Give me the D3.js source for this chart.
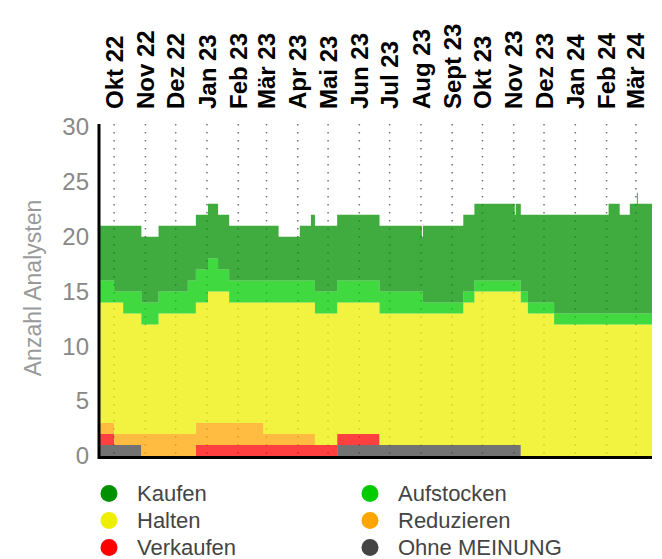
<!DOCTYPE html>
<html lang="de">
<head>
  <meta charset="UTF-8" />
  <title>Analystenmeinungen</title>
  <script src="https://unpkg.com/d3@7/dist/d3.min.js"></script>
  <style>
    body {
      margin: 0;
      background: #fff;
      font-family: "Liberation Sans", Arial, sans-serif;
    }
    svg { display: block; }
    .month-label { font-size: 24px; font-weight: bold; fill: #000; }
    .y-tick text { font-size: 24px; fill: #888; }
    .y-title { font-size: 23px; fill: #999; }
    .legend text { font-size: 22px; fill: #444; }
  </style>
</head>
<body>
  <svg id="chart" width="662" height="559"></svg>

  <script>
  // segment start dates (step after), values hold until next date
  const dates = [
    "2022-10-01", "2022-10-15", "2022-10-24", "2022-11-11", "2022-11-28",
    "2022-12-27", "2023-01-04", "2023-01-16", "2023-01-26", "2023-02-06",
    "2023-03-12", "2023-03-27", "2023-04-17", "2023-04-28", "2023-05-02",
    "2023-05-24", "2023-07-05", "2023-08-16", "2023-08-17", "2023-09-26",
    "2023-10-07", "2023-11-16", "2023-11-17", "2023-11-22", "2023-11-29",
    "2023-12-25", "2024-02-17", "2024-02-28", "2024-03-09", "2024-03-16",
    "2024-03-17"
  ];
  const endDate = "2024-03-31";

  const kaufen     = [5, 6, 6, 6, 6, 5, 5, 5, 5, 5, 5, 4, 5, 6, 6, 6, 6, 5, 7, 7, 7, 6, 7, 7, 8, 9, 10, 9, 10, 11, 10];
  const aufstocken = [2, 1, 2, 2, 2, 3, 3, 3, 2, 2, 2, 2, 2, 2, 2, 2, 2, 2, 1, 1, 1, 1, 1, 1, 1, 1, 1, 1, 1, 1, 1];
  const halten     = [11, 12, 11, 10, 11, 11, 11, 12, 12, 11, 12, 12, 12, 12, 12, 12, 12, 12, 12, 13, 14, 14, 14, 14, 13, 12, 12, 12, 12, 12, 12];
  const reduzieren = [1, 1, 1, 2, 2, 2, 2, 2, 2, 2, 1, 1, 1, 1, 0, 0, 0, 0, 0, 0, 0, 0, 0, 0, 0, 0, 0, 0, 0, 0, 0];
  const verkaufen  = [1, 0, 0, 0, 0, 0, 1, 1, 1, 1, 1, 1, 1, 1, 1, 1, 0, 0, 0, 0, 0, 0, 0, 0, 0, 0, 0, 0, 0, 0, 0];
  const ohne       = [1, 1, 1, 0, 0, 0, 0, 0, 0, 0, 0, 0, 0, 0, 0, 1, 1, 1, 1, 1, 1, 1, 1, 0, 0, 0, 0, 0, 0, 0, 0];

  const monthLabels = [
    "Okt 22", "Nov 22", "Dez 22", "Jan 23", "Feb 23", "Mär 23", "Apr 23", "Mai 23", "Jun 23",
    "Jul 23", "Aug 23", "Sept 23", "Okt 23", "Nov 23", "Dez 23", "Jan 24", "Feb 24", "Mär 24"
  ];
  const yTicks = [0, 5, 10, 15, 20, 25, 30];

  const seriesNames  = ["Kaufen", "Aufstocken", "Halten", "Reduzieren", "Verkaufen", "Ohne MEINUNG"];
  const seriesColors = ["#009000", "#00cc00", "#eeee00", "#ffa500", "#ff0000", "#444444"];

  const parse = d3.timeParse("%Y-%m-%d");
  const keys = ["kaufen", "aufstocken", "halten", "reduzieren", "verkaufen", "ohne"];
  const cols = [kaufen, aufstocken, halten, reduzieren, verkaufen, ohne];

  const rows = dates.map((d, i) => {
    const r = { date: parse(d) };
    keys.forEach((k, j) => r[k] = cols[j][i]);
    return r;
  });
  rows.push(Object.assign({}, rows[rows.length - 1], { date: parse(endDate) }));

  const svg = d3.select("#chart");
  const plot = { left: 100, right: 652, top: 127, bottom: 456 };

  const x = d3.scaleTime()
    .domain([parse(dates[0]), parse(endDate)])
    .range([plot.left, plot.right]);

  const y = d3.scaleLinear()
    .domain([0, 30])
    .range([plot.bottom, plot.top]);

  // month ticks sit mid-month
  const tickDates = d3.timeMonth.range(parse("2022-10-01"), parse("2024-04-01"))
    .map(d => d3.timeDay.offset(d, 14));

  // dotted vertical grid
  svg.append("g")
    .selectAll("line")
    .data(tickDates)
    .join("line")
      .attr("x1", d => x(d)).attr("x2", d => x(d))
      .attr("y1", plot.top - 3).attr("y2", plot.bottom)
      .attr("stroke", "#777")
      .attr("stroke-width", 1.5)
      .attr("stroke-dasharray", "1.5,6.5");

  // stacked step areas, bottom to top
  const stackOrder = ["ohne", "verkaufen", "reduzieren", "halten", "aufstocken", "kaufen"];
  const stacked = d3.stack().keys(stackOrder)(rows);

  const area = d3.area()
    .curve(d3.curveStepAfter)
    .x(d => x(d.data.date))
    .y0(d => y(d[0]))
    .y1(d => y(d[1]));

  svg.append("g")
    .selectAll("path")
    .data(stacked)
    .join("path")
      .attr("d", area)
      .attr("fill", d => seriesColors[keys.indexOf(d.key)])
      .attr("fill-opacity", 0.75);

  // month labels on top
  svg.append("g")
    .selectAll("text")
    .data(tickDates)
    .join("text")
      .attr("class", "month-label")
      .attr("transform", d => `translate(${x(d)},109) rotate(-90)`)
      .attr("dy", "0.36em")
      .text((d, i) => monthLabels[i]);

  // y axis
  const yAxis = svg.append("g")
    .attr("class", "y-tick")
    .attr("transform", `translate(${plot.left - 1},0)`)
    .call(d3.axisLeft(y).tickValues(yTicks).tickSize(0).tickPadding(10));
  yAxis.select(".domain").remove();

  svg.append("line")
    .attr("x1", plot.left - 1).attr("x2", plot.left - 1)
    .attr("y1", plot.top - 3).attr("y2", plot.bottom + 3)
    .attr("stroke", "#000").attr("stroke-width", 3);

  svg.append("line")
    .attr("x1", plot.left - 2).attr("x2", plot.right)
    .attr("y1", plot.bottom + 1.5).attr("y2", plot.bottom + 1.5)
    .attr("stroke", "#000").attr("stroke-width", 3);

  svg.append("text")
    .attr("class", "y-title")
    .attr("transform", "translate(33,288) rotate(-90)")
    .attr("text-anchor", "middle")
    .attr("dy", "0.35em")
    .text("Anzahl Analysten");

  // legend, two columns
  const legend = svg.append("g").attr("class", "legend");
  const item = legend.selectAll("g")
    .data(seriesNames)
    .join("g")
      .attr("transform", (d, i) => `translate(${i % 2 ? 370 : 109},${493.5 + Math.floor(i / 2) * 27})`);

  item.append("circle")
    .attr("r", 8.5)
    .attr("fill", (d, i) => seriesColors[i]);

  item.append("text")
    .attr("x", 28)
    .attr("y", 7)
    .text(d => d);
  </script>
</body>
</html>
